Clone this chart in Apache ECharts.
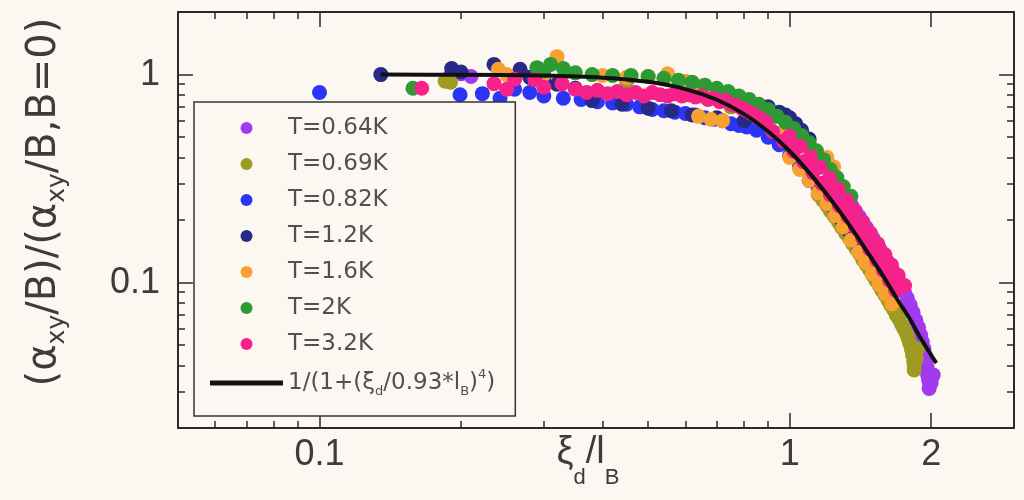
<!DOCTYPE html>
<html><head><meta charset="utf-8">
<script src="https://cdn.jsdelivr.net/npm/echarts@6/dist/echarts.min.js"></script>
<style>html,body{margin:0;padding:0;background:#FCF8F1;}#c{width:1024px;height:500px;}</style>
</head><body><div id="c"></div>
<script>
// ---- axis ranges and ticks ----
const xMin = 0.05, xMax = 3;
const yMin = 0.02, yMax = 2;
const xMajorTicks = [0.1, 1, 2];
const xMinorTicks = [0.06, 0.07, 0.08, 0.09, 0.2, 0.3, 0.4, 0.5, 0.6, 0.7, 0.8, 0.9];
const yMajorTicks = [0.1, 1];
const yMinorTicks = [0.03, 0.04, 0.05, 0.06, 0.07, 0.08, 0.09, 0.2, 0.3, 0.4, 0.5, 0.6, 0.7, 0.8, 0.9];

// ---- series names ----
const seriesNames = ['T=0.64K', 'T=0.69K', 'T=0.82K', 'T=1.2K', 'T=1.6K', 'T=2K', 'T=3.2K'];
const fitName = '1/(1+(ξd/0.93*lB)⁴)';

// ---- fit curve ----
const fitX = [0.135, 0.2, 0.3, 0.4, 0.5, 0.6, 0.7, 0.8, 0.9, 1.0, 1.1, 1.2, 1.3, 1.4, 1.5, 1.6, 1.7, 1.8, 1.9, 2.05];
const fitY = [1.0, 0.998, 0.989, 0.967, 0.923, 0.852, 0.757, 0.646, 0.533, 0.428, 0.338, 0.265, 0.208, 0.163, 0.129, 0.103, 0.082, 0.067, 0.054, 0.041];

// ---- scatter data [x, y] ----
const t064 = [[0.2,1.01],[0.21,0.98],[0.19,0.99],
 [1.25,0.3],[1.3,0.265],[1.33,0.25],[1.355,0.2345],[1.38,0.221],[1.405,0.208],[1.43,0.196],[1.455,0.184],[1.48,0.173],[1.505,0.163],[1.53,0.154],[1.555,0.145],[1.58,0.137],[1.605,0.129],[1.63,0.122],[1.655,0.115],[1.68,0.109],[1.705,0.1025],[1.73,0.096],[1.755,0.09],[1.78,0.084],[1.805,0.078],[1.83,0.072],[1.855,0.066],[1.88,0.061],[1.9,0.056],[1.915,0.052],[1.93,0.048],[1.94,0.045],[1.95,0.042],[1.96,0.039],[1.965,0.036],[1.975,0.034],[1.985,0.032],[1.98,0.031],[2.0,0.033],[2.02,0.036]];
const t069 = [[0.185,0.93],[0.19,0.92],[0.3,0.97],[0.45,0.93],[0.6,0.84],[0.75,0.7],[0.85,0.58],[0.95,0.47],[1.05,0.37],
 [1.15,0.265],[1.175,0.25],[1.2,0.2345],[1.22,0.221],[1.245,0.208],[1.27,0.196],[1.29,0.184],[1.315,0.173],[1.34,0.163],[1.36,0.154],[1.385,0.145],[1.41,0.137],[1.43,0.129],[1.455,0.122],[1.48,0.115],[1.5,0.109],[1.525,0.1025],[1.55,0.097],[1.57,0.092],[1.595,0.087],[1.62,0.082],[1.64,0.078],[1.665,0.074],[1.685,0.07],[1.71,0.0665],[1.73,0.063],[1.75,0.06],[1.77,0.057],[1.785,0.0543],[1.8,0.051],[1.815,0.048],[1.825,0.045],[1.835,0.042],[1.84,0.04],[1.84,0.038],[1.86,0.043],[1.87,0.048]];
const t082 = [[0.1,0.82],[0.199,0.8],[0.222,0.81],[0.242,0.77],[0.26,0.85],[0.28,0.82],[0.3,0.79],[0.33,0.77],[0.36,0.76],[0.39,0.74],[0.42,0.73],[0.45,0.72],[0.48,0.7],[0.51,0.68],[0.54,0.67],[0.57,0.66],[0.6,0.65],[0.63,0.64],[0.66,0.62],[0.69,0.61],[0.72,0.6],[0.75,0.58],[0.78,0.57],[0.81,0.56],[0.85,0.54],[0.9,0.5],[0.95,0.46],[1.0,0.41],[1.05,0.36],[1.1,0.31],[1.15,0.28],[1.2,0.25],[1.25,0.215],[1.3,0.19],[1.35,0.168],[1.4,0.148],[1.45,0.132]];
const t12 = [[0.135,1.0],[0.191,1.07],[0.2,1.03],[0.235,1.12],[0.267,1.06],[0.28,0.97],[0.3,0.93],[0.32,0.9],[0.35,0.86],[0.38,0.75],[0.44,0.72],[0.5,0.69],[0.56,0.67],[0.62,0.64],[0.7,0.62],[0.8,0.6],[0.9,0.7],[0.95,0.66],[0.98,0.64],[1.0,0.62],[1.03,0.58],[1.06,0.54],[1.1,0.49],[1.19,0.27],[1.23,0.24],[1.26,0.22],[1.29,0.2],[1.33,0.18]];
const t16 = [[0.24,1.06],[0.25,1.0],[0.32,1.22],[0.3,1.0],[0.4,0.99],[0.45,0.97],[0.5,0.98],[0.55,1.01],[0.6,0.93],[0.64,0.63],[0.65,0.88],[0.68,0.61],[0.7,0.83],[0.72,0.6],[0.75,0.78],[0.8,0.7],[0.85,0.64],[0.9,0.58],[0.95,0.52],[1.0,0.4],[1.05,0.35],[1.1,0.31],[1.15,0.27],[1.2,0.4],[1.2,0.24],[1.24,0.36],[1.25,0.21],[1.3,0.185],[1.35,0.16],[1.4,0.14],[1.45,0.125],[1.5,0.11],[1.55,0.098],[1.6,0.088],[1.65,0.079]];
const t2 = [[0.158,0.86],[0.29,1.08],[0.31,1.12],[0.33,1.07],[0.3,1.04],[0.35,1.02],[0.38,1.0],[0.42,0.99],[0.46,0.99],[0.5,0.98],[0.54,0.96],[0.58,0.94],[0.62,0.92],[0.66,0.89],[0.7,0.86],[0.74,0.83],[0.78,0.79],[0.82,0.76],[0.86,0.72],[0.9,0.68],[0.94,0.63],[0.98,0.59],[1.02,0.55],[1.06,0.51],[1.1,0.47],[1.14,0.43],[1.18,0.39],[1.22,0.35],[1.26,0.32],[1.3,0.29],[1.35,0.26]];
const t32 = [[0.165,0.86],[0.235,0.905],[0.25,0.85],[0.26,0.95],[0.287,0.945],[0.3,0.87],[0.328,0.905],[0.35,0.85],[0.37,0.82],[0.39,0.84],[0.41,0.81],[0.43,0.83],[0.45,0.8],[0.47,0.82],[0.49,0.79],[0.51,0.82],[0.53,0.8],[0.55,0.79],[0.57,0.81],[0.59,0.79],[0.61,0.8],[0.63,0.78],[0.65,0.79],[0.67,0.76],[0.69,0.77],[0.71,0.74],[0.73,0.75],[0.75,0.72],[0.77,0.71],[0.79,0.69],[0.81,0.67],[0.83,0.65],[0.85,0.63],[0.87,0.61],[0.89,0.59],
 [0.92,0.533],[0.97,0.479],[1.02,0.428],[1.07,0.381],[1.12,0.338],[1.17,0.3],[1.22,0.265],[1.275,0.2345],[1.33,0.208],[1.38,0.184],[1.43,0.163],[1.48,0.145],[1.53,0.129],[1.58,0.115],[1.63,0.1025],[1.68,0.092],
 [0.999,0.505],[1.053,0.453],[1.107,0.404],[1.161,0.359],[1.215,0.318],[1.269,0.282],[1.323,0.249],[1.377,0.221],[1.431,0.195],[1.485,0.173],[1.539,0.1535],[1.593,0.1365],[1.647,0.1215],[1.701,0.1084],[1.755,0.0969],
 [0.9975,0.479],[1.1025,0.381],[1.2075,0.3],[1.3125,0.2345],[1.4175,0.184],[1.5225,0.145],[1.6275,0.115]];

const seriesData = [t064, t069, t082, t12, t16, t2, t32];
const seriesColors = ['#A23AEF', '#9E9A22', '#2B35F5', '#262A86', '#F7A133', '#2E9A34', '#F5228A'];

const BG = '#FCF8F1', AX = '#2a2a2a', LBL = '#3c3c3c';
const labelFont = {fontFamily: 'Liberation Sans', fontSize: 36, color: LBL};

function axisDef(type, pos, ticks, len, lineShow, labels) {
  const isX = type === 'x';
  return {
    type: 'log', logBase: 10,
    min: isX ? xMin : yMin, max: isX ? xMax : yMax,
    position: pos,
    splitLine: {show: false},
    axisLine: {show: lineShow, onZero: false, lineStyle: {color: AX, width: 2}},
    axisTick: {show: true, inside: true, length: len, customValues: ticks, lineStyle: {color: AX, width: 1.5}},
    axisLabel: labels ? Object.assign({show: true, customValues: ticks, formatter: v => String(v)}, labelFont, labels) : {show: false},
    minorTick: {show: false}
  };
}

const xMain = axisDef('x', 'bottom', xMajorTicks, 15, true, {margin: 9});
xMain.name = '{g|ξ}{sub|d}{g|/l}{sub|B}';
xMain.nameLocation = 'middle';
xMain.nameGap = 6;
xMain.nameMoveOverlap = false;
xMain.nameTextStyle = {fontFamily: 'Liberation Sans', fontSize: 38, color: LBL, padding: [0, 16, 0, 0],
  rich: {
    g: {fontFamily: 'Liberation Sans', fontSize: 38, lineHeight: 46, color: LBL, verticalAlign: 'top'},
    sub: {fontFamily: 'Liberation Sans', fontSize: 22, lineHeight: 22, color: LBL, verticalAlign: 'top', padding: [33, 0, 0, 0]}
  }};

const yMain = axisDef('y', 'left', yMajorTicks, 15, true, {margin: 18});
yMain.name = '(α{sub|xy}/B)/(α{sub|xy}/B,B=0)';
yMain.nameLocation = 'middle';
yMain.nameGap = 108;
yMain.nameMoveOverlap = false;
yMain.nameTextStyle = {fontFamily: 'DejaVu Sans', fontSize: 40, color: LBL, lineHeight: 50, padding: [0, 0, 0, 36],
  rich: {sub: {fontFamily: 'DejaVu Sans', fontSize: 25, lineHeight: 25, color: LBL, verticalAlign: 'bottom'}}};

const series = seriesNames.map((n, i) => ({
  name: n, type: 'scatter', data: seriesData[i], symbol: 'circle', symbolSize: 15,
  itemStyle: {color: seriesColors[i], opacity: 1}, emphasis: {disabled: true}, xAxisIndex: 0, yAxisIndex: 0
}));
series.push({
  name: fitName, type: 'line', data: fitX.map((x, i) => [x, fitY[i]]),
  showSymbol: false, symbol: 'none', smooth: 0.3,
  lineStyle: {color: '#111', width: 4}, itemStyle: {color: '#111'}, emphasis: {disabled: true}, xAxisIndex: 0, yAxisIndex: 0, z: 3
});

const chart = echarts.init(document.getElementById('c'), null, {renderer: 'canvas', devicePixelRatio: 1});
chart.setOption({
  backgroundColor: BG,
  animation: false,
  grid: {left: 178, right: 10, top: 12, bottom: 72, containLabel: false, outerBoundsMode: 'none'},
  xAxis: [xMain,
    axisDef('x', 'bottom', xMinorTicks, 7, false, null),
    axisDef('x', 'top', xMajorTicks, 15, true, null),
    axisDef('x', 'top', xMinorTicks, 7, false, null)],
  yAxis: [yMain,
    axisDef('y', 'left', yMinorTicks, 7, false, null),
    axisDef('y', 'right', yMajorTicks, 15, true, null),
    axisDef('y', 'right', yMinorTicks, 7, false, null)],
  legend: {
    orient: 'vertical', left: 194, top: 102,
    padding: [14, 20, 18, 16],
    itemWidth: 73, itemHeight: 12, itemGap: 12,
    backgroundColor: BG, borderColor: '#333', borderWidth: 1.5,
    selectedMode: false,
    textStyle: {fontFamily: 'DejaVu Sans', fontSize: 23, color: '#505050', lineHeight: 24,
      rich: {
        sub: {fontFamily: 'DejaVu Sans', fontSize: 13, lineHeight: 13, color: '#505050', verticalAlign: 'bottom'},
        sup: {fontFamily: 'DejaVu Sans', fontSize: 13, lineHeight: 13, color: '#505050', verticalAlign: 'top'},
        big: {fontFamily: 'DejaVu Sans', fontSize: 23, lineHeight: 30, color: '#505050'}
      }},
    formatter: name => name === fitName ? '{big|1/(1+(ξ}{sub|d}{big|/0.93*l}{sub|B}{big|)}{sup|4}{big|)}' : name,
    data: seriesNames.map(n => ({name: n, icon: 'circle'})).concat([{name: fitName, icon: 'path://M0,0H75V5H0Z'}])
  },
  series: series
});
</script>
</body></html>
